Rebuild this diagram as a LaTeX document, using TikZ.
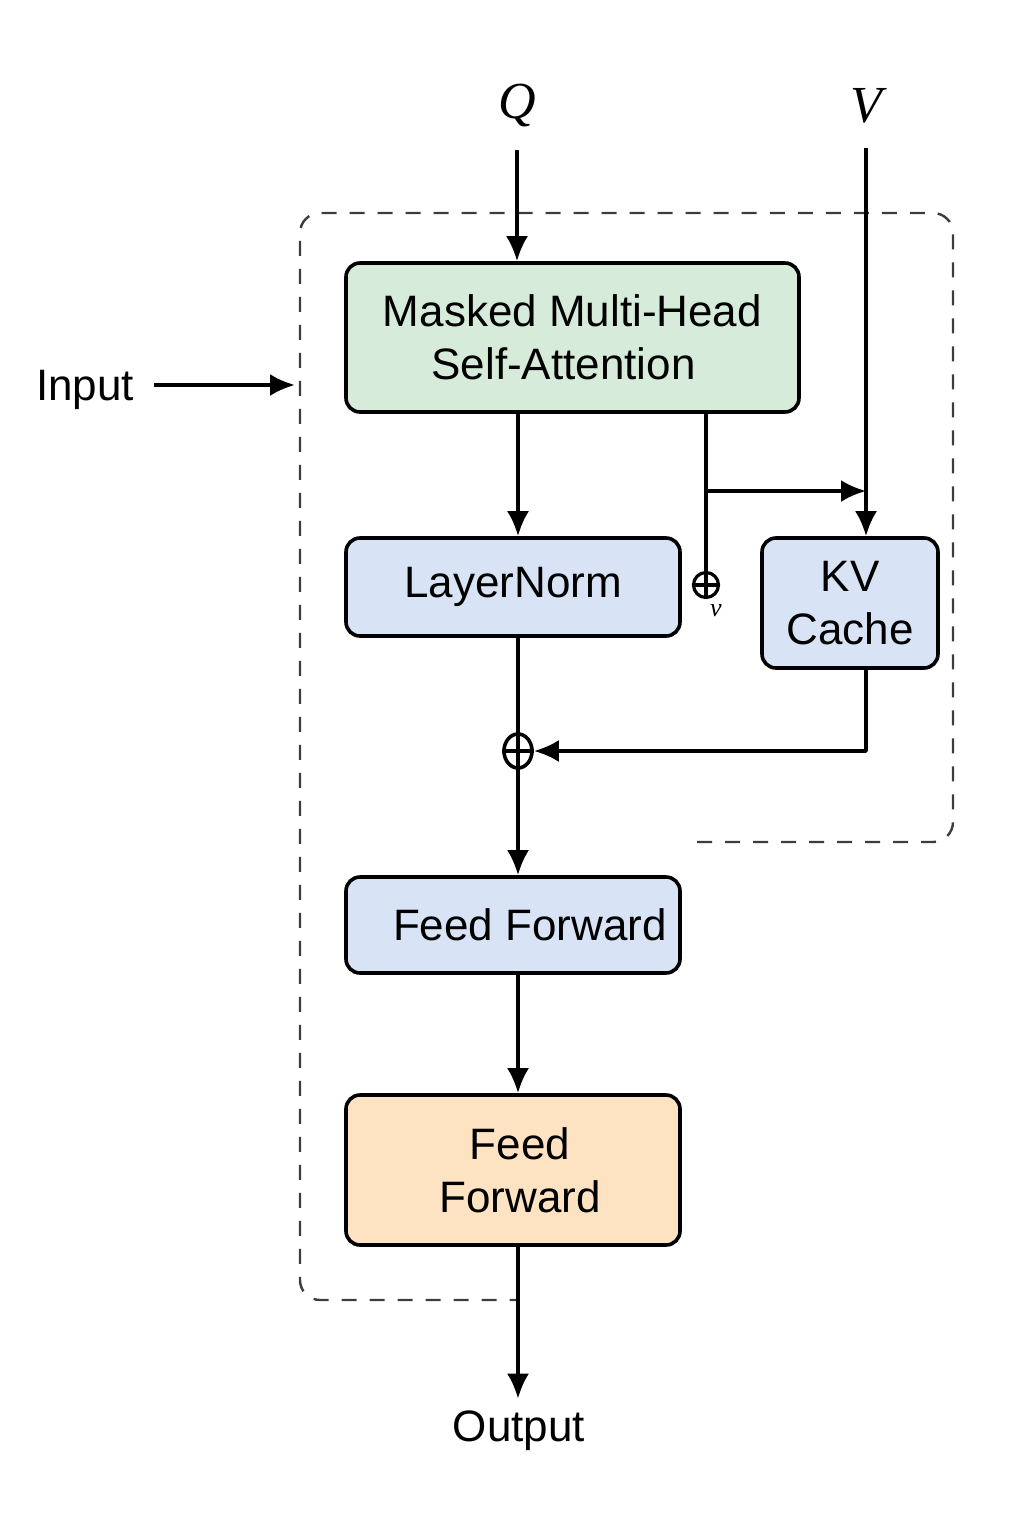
\documentclass[tikz,border=0pt]{standalone}
\usepackage{fontspec}
\setmainfont{Liberation Sans}
\newfontfamily\serifit{Liberation Serif}
\usetikzlibrary{arrows.meta,shapes.geometric}
\definecolor{attnfill}{HTML}{D7EBDA}
\definecolor{normfill}{HTML}{D8E4F5}
\definecolor{ffnfill}{HTML}{FDE3C2}
\definecolor{framegray}{HTML}{3C3C3C}
\begin{document}
\begin{tikzpicture}[x=0.5pt,y=-0.5pt,every path/.style={line join=round},
    box/.style={draw,line width=1.8pt,rounded corners=7pt,align=center,inner sep=0pt,
      font=\fontsize{22}{26.5}\selectfont},
    arr/.style={line width=1.8pt,-{Latex[length=12.5pt,width=11pt]}},
    wire/.style={line width=1.8pt},
    frame/.style={draw=framegray,line width=1.2pt,dash pattern=on 7.5pt off 6.5pt,rounded corners=10pt},
    lbl/.style={font=\fontsize{22}{26.5}\selectfont,inner sep=0pt}]
    \useasboundingbox (0,0) rectangle (1024,1536);
    % outline of the block
    \draw[frame] (697,842) -- (953,842) -- (953,213) -- (300,213) -- (300,1300) -- (518,1300);
    % inputs
    \node[lbl,font=\serifit\itshape\fontsize{26}{30}\selectfont] (q) at (517,106) {Q};
    \node[lbl,font=\serifit\itshape\fontsize{26}{30}\selectfont] (v) at (866,106) {V};
    \coordinate (qin) at (517,150);
    \coordinate (vin) at (866,148);
    \node[lbl] (inp) at (85,390) {Input};
    \coordinate (inend) at (295,385);
    % blocks
    \node[box,fill=attnfill,minimum width=226.5pt,minimum height=74.5pt] (attn) at (572.5,337.5) {Masked Multi-Head\\\hspace*{-9pt}Self-Attention};
    \node[box,fill=normfill,minimum width=167pt,minimum height=49pt] (norm) at (513,587) {LayerNorm};
    \node[box,fill=normfill,minimum width=88pt,minimum height=65pt] (kv) at (850,603) {KV\\Cache};
    \node[box,fill=normfill,minimum width=167pt,minimum height=48pt] (ffn) at (513,925) {\hspace*{17pt}Feed Forward};
    \node[box,fill=ffnfill,minimum width=167pt,minimum height=75pt] (ffnb) at (513,1170) {\hspace*{7pt}Feed\\\hspace*{7pt}Forward};
    \node[lbl] (out) at (519,1431) {Output};
    % sums
    \node[draw,ellipse,line width=1.8pt,minimum width=14pt,minimum height=17pt,inner sep=0pt] (sum) at (518,751) {};
    \draw[wire] (sum.west) -- (sum.east) (sum.north) -- (sum.south);
    \node[draw,circle,line width=1.6pt,minimum size=12.5pt,inner sep=0pt] (sumv) at (706,585) {};
    \draw[wire] (sumv.west) -- (sumv.east) (sumv.north) -- (sumv.south);
    \node[lbl,font=\serifit\itshape\fontsize{13}{14}\selectfont] (vsub) at (716,611) {v};
    \coordinate (br) at (706,491);
    % connectors
    \draw[arr] (qin) -- (attn.north -| qin);
    \draw[arr] (vin) -- (vin |- kv.north);
    \draw[arr] ([xshift=10pt]inp.east |- inend) -- (inend);
    \draw[arr] (attn.south -| sum) -- (norm.north -| sum);
    \draw[wire] (attn.south -| sumv) -- (sumv.north);
    \draw[arr] (br) -- (br -| vin);
    \draw[wire] (norm.south -| sum) -- (sum.north);
    \draw[arr] (vin |- kv.south) -- (vin |- sum) -- (sum.east);
    \draw[arr] (sum.south) -- (ffn.north -| sum);
    \draw[arr] (ffn.south -| sum) -- (ffnb.north -| sum);
    \draw[arr,shorten >=6pt] (ffnb.south -| sum) -- (out.north -| sum);
  \end{tikzpicture}
\end{document}
